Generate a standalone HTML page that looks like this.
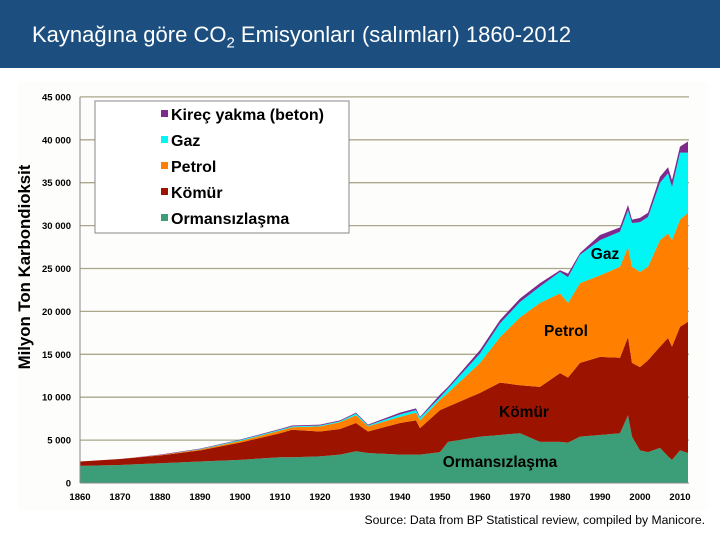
<!DOCTYPE html>
<html><head><meta charset="utf-8"><style>
body{margin:0;width:720px;height:540px;background:#fff;font-family:"Liberation Sans",sans-serif;overflow:hidden;position:relative}
#hdr{position:absolute;left:0;top:0;width:720px;height:68px;background:#1c4f80}
#title{position:absolute;left:32px;top:22px;color:#fff;font-size:22px}
#src{position:absolute;right:15px;top:513px;font-size:12.2px;color:#000}
</style></head><body>
<div id="hdr"><div id="title">Kaynağına göre CO<sub style="font-size:15px">2</sub> Emisyonları (salımları) 1860-2012</div></div>
<svg id="chart" width="720" height="540" style="position:absolute;left:0;top:0">
<rect x="18" y="82" width="690" height="428" fill="#fdfdfb"/>
<g id="grid"></g><g id="areas"></g><g id="axes"></g>
<text transform="translate(30,267) rotate(-90)" text-anchor="middle" font-weight="bold" font-size="16.8">Milyon Ton Karbondioksit</text>
<rect x="95" y="101" width="254" height="132" fill="#fff" stroke="#888"/>
<g id="legend"></g>
<g font-weight="bold" font-size="15.5" text-anchor="middle">
<text x="605" y="259">Gaz</text>
<text x="566" y="336">Petrol</text>
<text x="524" y="417">Kömür</text>
<text x="500" y="467">Ormansızlaşma</text>
</g>
</svg>
<div id="src">Source: Data from BP Statistical review, compiled by Manicore.</div>
<script>
const years=[1860,1870,1880,1890,1900,1910,1913,1920,1925,1929,1932,1940,1944,1945,1950,1952,1960,1965,1970,1975,1980,1982,1985,1990,1995,1997,1998,2000,2002,2005,2007,2008,2010,2012];
const forest=[2.0,2.1,2.3,2.5,2.7,3.0,3.0,3.1,3.3,3.7,3.5,3.3,3.3,3.3,3.6,4.8,5.4,5.6,5.8,4.8,4.8,4.7,5.4,5.6,5.8,7.9,5.4,3.8,3.6,4.1,3.1,2.7,3.8,3.5];
const coal=[0.5,0.7,0.9,1.3,2.0,2.8,3.2,2.9,3.0,3.3,2.5,3.7,4.0,3.1,4.9,4.1,5.1,6.1,5.6,6.4,8.0,7.6,8.6,9.1,8.8,9.1,8.6,9.7,10.7,11.8,13.8,13.2,14.4,15.3];
const oil=[0,0,0.05,0.1,0.2,0.3,0.3,0.6,0.8,0.9,0.6,0.7,0.9,0.9,1.2,1.6,3.5,5.3,7.9,9.8,9.3,8.7,9.3,9.5,10.6,10.5,11.2,11.1,10.9,12.4,12.2,12.4,12.5,12.7];
const gas=[0,0,0,0.05,0.1,0.1,0.1,0.1,0.1,0.2,0.1,0.3,0.3,0.3,0.3,0.5,1.1,1.6,1.8,1.9,2.5,3.0,3.3,4.1,4.1,4.3,5.1,5.8,5.8,6.7,7.0,6.2,7.8,7.0];
const cement=[0,0,0.05,0.05,0.05,0.1,0.1,0.1,0.1,0.1,0.1,0.2,0.2,0.1,0.3,0.2,0.4,0.4,0.4,0.4,0.2,0.4,0.2,0.6,0.5,0.6,0.4,0.5,0.5,0.7,0.7,0.8,0.7,1.3];
const yTicks=[0,5,10,15,20,25,30,35,40,45];
const yTickLabels=["0","5 000","10 000","15 000","20 000","25 000","30 000","35 000","40 000","45 000"];
const xTicks=[1860,1870,1880,1890,1900,1910,1920,1930,1940,1950,1960,1970,1980,1990,2000,2010];
const legendNames=["Kireç yakma (beton)","Gaz","Petrol","Kömür","Ormansızlaşma"];
const NS="http://www.w3.org/2000/svg";
const X=y=>80+(y-1860)*4, Y=v=>483-v*8.58;
function mk(t,a,p){const e=document.createElementNS(NS,t);for(const k in a)e.setAttribute(k,a[k]);p.appendChild(e);return e;}
const grid=document.getElementById('grid'),axes=document.getElementById('axes'),areas=document.getElementById('areas'),leg=document.getElementById('legend');
yTicks.forEach((v,i)=>{
 if(v>0){const l=mk('line',{x1:80,x2:689,y1:Y(v),y2:Y(v),stroke:'#aaa78a','stroke-width':1.3},grid);
 
 }
 const t=mk('text',{x:71,y:Y(v)+3.5,'text-anchor':'end','font-size':9.5,'font-weight':'bold'},axes);t.textContent=yTickLabels[i];
 
 
});
xTicks.forEach(v=>{
 const t=mk('text',{x:X(v),y:500,'text-anchor':'middle','font-size':9.5,'font-weight':'bold'},axes);t.textContent=v;
 
 
});
const series=[forest,coal,oil,gas,cement];
const colors=['#3c9e78','#9c1400','#ff7f00','#00f5f5','#7d2a8c'];
const names=['area-ormansizlasma','area-komur','area-petrol','area-gaz','area-kirec'];
let base=years.map(()=>0);
series.forEach((s,k)=>{
 const top=base.map((b,i)=>b+s[i]);
 let d='M'+years.map((y,i)=>X(y)+','+Y(top[i])).join('L');
 for(let i=years.length-1;i>=0;i--)d+='L'+X(years[i])+','+Y(base[i]);
 const p=mk('path',{d:d+'Z',fill:colors[k]},areas);
 
 
 base=top;
});
mk('line',{x1:80,x2:80,y1:Y(45),y2:Y(0),stroke:'#888'},axes);
mk('line',{x1:80,x2:689,y1:Y(0),y2:Y(0),stroke:'#888'},axes);
const legColors=['#7d2a8c','#00f5f5','#ff7f00','#9c1400','#3c9e78'];
legendNames.forEach((n,i)=>{
 const yy=115+i*26;
 const r=mk('rect',{x:161,y:yy-5,width:7,height:7,fill:legColors[i]},leg);
 
 
 const t=mk('text',{x:171,y:yy+5,'font-size':16,'font-weight':'bold'},leg);t.textContent=n;
 
 
});
</script>
</body></html>
